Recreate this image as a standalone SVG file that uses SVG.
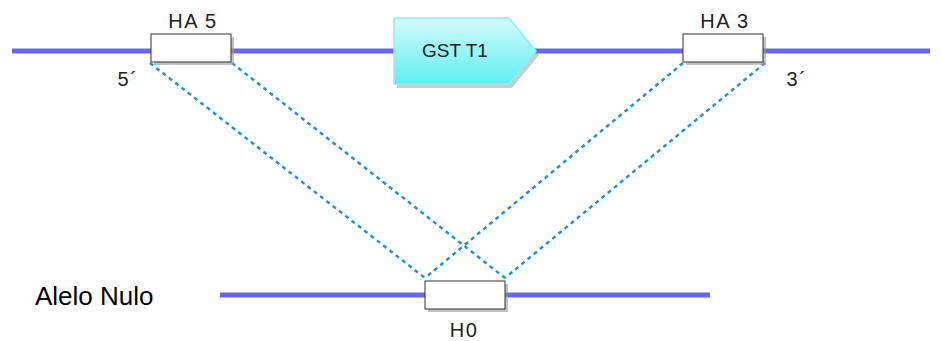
<svg xmlns="http://www.w3.org/2000/svg" width="941" height="341" viewBox="0 0 941 341">
<style>
.dna{stroke:#6666ee;stroke-width:5;fill:none}
.dash{stroke:#1e90e6;stroke-width:2.5;stroke-dasharray:4,4;fill:none}
.box{fill:#ffffff;stroke:#333;stroke-width:1}
.shadow{fill:#999;opacity:0.6}
.t{font-family:"Liberation Sans",Arial,sans-serif;font-size:20px;fill:#222;text-anchor:middle;letter-spacing:1.5px}
</style>
<defs>
<linearGradient id="g" x1="0" y1="0" x2="0" y2="1">
<stop offset="0" stop-color="#d4fbfd"/>
<stop offset="1" stop-color="#5eeef2"/>
</linearGradient>
</defs>
<g id="connectors">
<line class="dna" x1="12" y1="51" x2="930" y2="51"/>
<line class="dna" x1="220" y1="295" x2="710" y2="295"/>
<line class="dash" x1="150" y1="63" x2="425" y2="278"/>
<line class="dash" x1="232" y1="63" x2="505" y2="278"/>
<line class="dash" x1="683" y1="63" x2="425" y2="278"/>
<line class="dash" x1="765" y1="63" x2="505" y2="278"/>
</g>
<g id="ha5">
<rect class="shadow" x="154" y="37" width="80" height="28"/>
<rect class="box" x="151" y="34" width="80" height="28"/>
<text class="t" x="193" y="28">HA 5</text>
<text class="t" x="128" y="86">5´</text>
</g>
<g id="gst">
<path d="M397,22 H512 L539,55 L512,88 H397 Z" fill="#999" opacity="0.5"/>
<path d="M394,18 H509 L536,51 L509,84 H394 Z" fill="url(#g)" stroke="#8eeef2" stroke-width="1.5"/>
<text class="t" x="455" y="57" style="font-size:19px;letter-spacing:0">GST T1</text>
</g>
<g id="ha3">
<rect class="shadow" x="686" y="37" width="80" height="28"/>
<rect class="box" x="683" y="34" width="80" height="28"/>
<text class="t" x="725" y="28">HA 3</text>
<text class="t" x="797" y="86">3´</text>
</g>
<g id="alelo">
<text x="35" y="305" font-family="Liberation Sans,Arial,sans-serif" font-size="26" fill="#000">Alelo Nulo</text>
</g>
<g id="h0">
<rect class="shadow" x="428" y="284" width="80" height="28"/>
<rect class="box" x="425" y="281" width="80" height="28"/>
<text class="t" x="464" y="337">H0</text>
</g>
</svg>
